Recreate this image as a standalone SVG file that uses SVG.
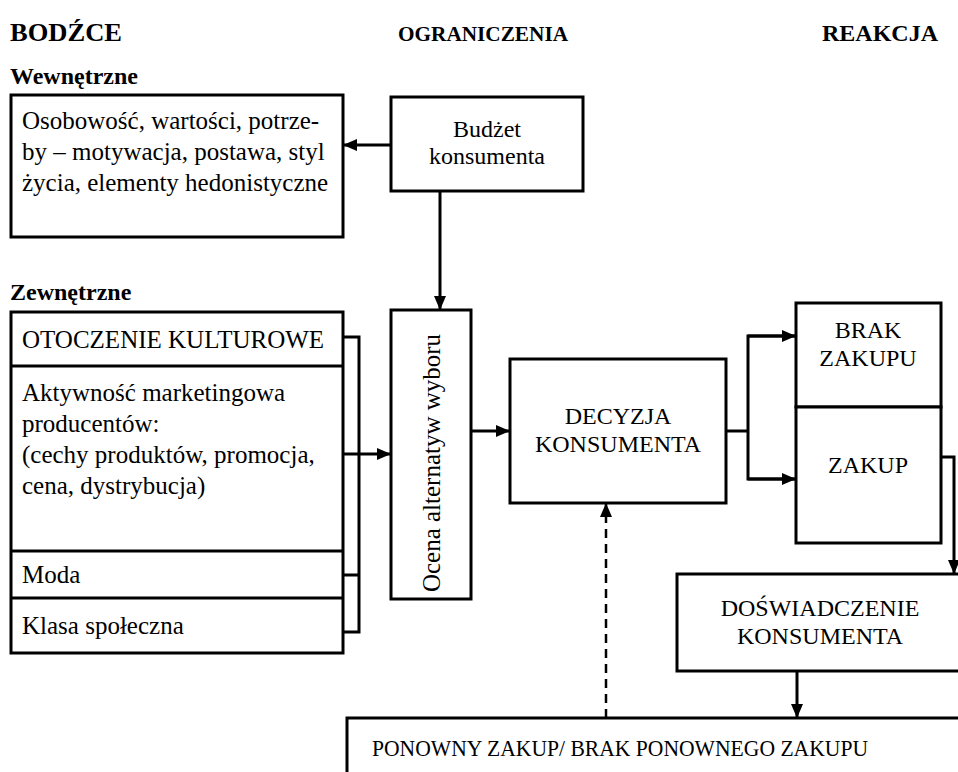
<svg xmlns="http://www.w3.org/2000/svg" width="958" height="772" viewBox="0 0 958 772">
<style>
text{font-family:"Liberation Serif","Times New Roman",serif;font-size:24px;fill:#000}
.h{font-weight:bold}
.c{text-anchor:middle}
.l{font-size:25px}
.box{fill:#fff;stroke:#000;stroke-width:3}
.ln{fill:none;stroke:#000;stroke-width:3}
.dash{fill:none;stroke:#000;stroke-width:2.5;stroke-dasharray:9 6}
</style>
<defs>
<marker id="ah" viewBox="0 0 14 12" refX="14" refY="6" markerWidth="14" markerHeight="12" markerUnits="userSpaceOnUse" orient="auto">
<path d="M0,0 L14,6 L0,12 Z" fill="#000"/>
</marker>
</defs>
<g id="headers">
<text class="h" x="10" y="41" style="font-size:25px" textLength="112" lengthAdjust="spacingAndGlyphs">BODŹCE</text>
<text class="h" x="398" y="41" style="font-size:22px" textLength="170" lengthAdjust="spacingAndGlyphs">OGRANICZENIA</text>
<text class="h" x="822" y="41">REAKCJA</text>
<text class="h" x="10" y="84">Wewnętrzne</text>
<text class="h" x="10" y="300">Zewnętrzne</text>
</g>
<g id="wewnetrzne">
<rect class="box" x="11" y="95" width="332" height="142"/>
<text class="l" x="22" y="129">Osobowość, wartości, potrze-</text>
<text class="l" x="22" y="160">by – motywacja, postawa, styl</text>
<text class="l" x="22" y="191">życia, elementy hedonistyczne</text>
</g>
<g id="budzet">
<rect class="box" x="391" y="97" width="192" height="94"/>
<text class="c" x="487" y="137">Budżet</text>
<text class="c" x="487" y="164">konsumenta</text>
</g>
<g id="zewnetrzne">
<rect class="box" x="11" y="312" width="332" height="341"/>
<line class="ln" x1="11" y1="366" x2="343" y2="366"/>
<line class="ln" x1="11" y1="551" x2="343" y2="551"/>
<line class="ln" x1="11" y1="598" x2="343" y2="598"/>
<text class="l" x="22" y="348">OTOCZENIE KULTUROWE</text>
<text class="l" x="22" y="401">Aktywność marketingowa</text>
<text class="l" x="22" y="432">producentów:</text>
<text class="l" x="22" y="463">(cechy produktów, promocja,</text>
<text class="l" x="22" y="494">cena, dystrybucja)</text>
<text class="l" x="22" y="583">Moda</text>
<text class="l" x="22" y="634">Klasa społeczna</text>
</g>
<g id="ocena">
<rect class="box" x="391" y="310" width="80" height="289"/>
<text class="c l" transform="translate(431,463) rotate(-90)" dominant-baseline="central">Ocena alternatyw wyboru</text>
</g>
<g id="decyzja">
<rect class="box" x="510" y="359" width="216" height="144"/>
<text class="c" x="618" y="424">DECYZJA</text>
<text class="c" x="618" y="452">KONSUMENTA</text>
</g>
<g id="brak">
<rect class="box" x="796" y="303" width="145" height="104"/>
<text class="c" x="868" y="338">BRAK</text>
<text class="c" x="868" y="366">ZAKUPU</text>
</g>
<g id="zakup">
<rect class="box" x="796" y="407" width="145" height="136"/>
<text class="c" x="868" y="473">ZAKUP</text>
</g>
<g id="doswiadczenie">
<rect class="box" x="677" y="574" width="300" height="97"/>
<text class="c" x="820" y="616">DOŚWIADCZENIE</text>
<text class="c" x="820" y="644">KONSUMENTA</text>
</g>
<g id="ponowny">
<rect class="box" x="347" y="718" width="640" height="80"/>
<text class="c" x="620" y="756" textLength="496" lengthAdjust="spacingAndGlyphs">PONOWNY ZAKUP/ BRAK PONOWNEGO ZAKUPU</text>
</g>
<g id="connectors">
<line class="ln" x1="391" y1="145" x2="343" y2="145" marker-end="url(#ah)"/>
<line class="ln" x1="440" y1="191" x2="440" y2="310" marker-end="url(#ah)"/>
<polyline class="ln" points="343,337 359,337 359,632 343,632"/>
<line class="ln" x1="343" y1="575" x2="359" y2="575"/>
<line class="ln" x1="343" y1="454" x2="391" y2="454" marker-end="url(#ah)"/>
<line class="ln" x1="471" y1="431" x2="510" y2="431" marker-end="url(#ah)"/>
<line class="ln" x1="726" y1="431" x2="748" y2="431"/>
<polyline class="ln" points="796,336 748,336 748,479 796,479"/>
<line class="ln" x1="748" y1="336" x2="796" y2="336" marker-end="url(#ah)"/>
<line class="ln" x1="748" y1="479" x2="796" y2="479" marker-end="url(#ah)"/>
<polyline class="ln" points="941,457 954,457 954,574" marker-end="url(#ah)"/>
<line class="ln" x1="797" y1="671" x2="797" y2="718" marker-end="url(#ah)"/>
<line class="dash" x1="606" y1="718" x2="606" y2="503" marker-end="url(#ah)"/>
</g>
</svg>
